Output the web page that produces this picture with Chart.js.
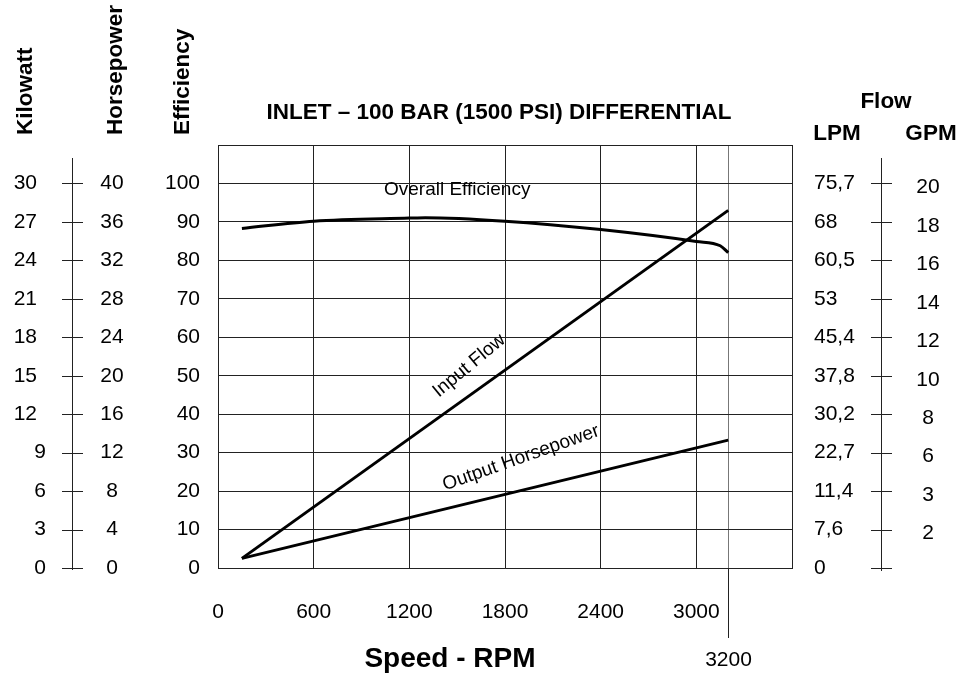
<!DOCTYPE html>
<html>
<head>
<meta charset="utf-8">
<script src="https://cdn.jsdelivr.net/npm/chart.js@4/dist/chart.umd.min.js"></script>
<style>
  body { margin: 0; background: #fff; }
  canvas { display: block; }
</style>
</head>
<body>
<canvas id="myChart" width="959" height="675"></canvas>
<script>
// tick labels
const effTicks = [0, 10, 20, 30, 40, 50, 60, 70, 80, 90, 100];
const kwLabels = ['0', '3', '6', '9', '12', '15', '18', '21', '24', '27', '30'];
const hpLabels = ['0', '4', '8', '12', '16', '20', '24', '28', '32', '36', '40'];
const lpmLabels = ['0', '7,6', '11,4', '22,7', '30,2', '37,8', '45,4', '53', '60,5', '68', '75,7'];
const gpmLabels = ['', '2', '3', '6', '8', '10', '12', '14', '16', '18', '20'];

// curves (speed in rpm)
const effRpm = [150, 600, 1200, 1300, 1800, 2400, 3000, 3150, 3200];
const effValues = [88.3, 90.2, 91.0, 91.1, 90.2, 88.0, 84.9, 83.8, 82.0];
const flowRpm = [150, 3200];
const flowGpm = [0.5, 18.6];
const hpRpm = [150, 3200];
const hpValues = [1.0, 13.3];

const FONT = "'Liberation Sans', Arial, sans-serif";

const toXY = (xs, ys) => xs.map((x, i) => ({ x: x, y: ys[i] }));

const sideAxes = {
    id: 'sideAxes',
    afterDraw(chart) {
        const c = chart.ctx;
        const y = chart.scales.y;
        const x = chart.scales.x;
        const area = chart.chartArea;
        c.save();
        c.fillStyle = '#000';
        c.strokeStyle = '#222';
        c.lineWidth = 1;

        // left kW / hp axis
        c.beginPath();
        c.moveTo(72.5, 158);
        c.lineTo(72.5, y.getPixelForValue(0) + 2);
        effTicks.forEach(v => {
            const py = Math.round(y.getPixelForValue(v)) + 0.5;
            c.moveTo(62, py);
            c.lineTo(83, py);
        });
        // right gpm axis
        c.moveTo(881.5, 158);
        c.lineTo(881.5, y.getPixelForValue(0) + 3);
        effTicks.forEach(v => {
            const py = Math.round(y.getPixelForValue(v)) + 0.5;
            c.moveTo(871, py);
            c.lineTo(892, py);
        });
        // 3200 marker below the plot
        const px = Math.round(x.getPixelForValue(3200)) + 0.5;
        c.moveTo(px, area.bottom);
        c.lineTo(px, 638);
        c.stroke();

        c.font = '21px ' + FONT;
        c.textBaseline = 'middle';
        effTicks.forEach((v, i) => {
            const py = y.getPixelForValue(v);
            c.textAlign = 'right';
            c.fillText(kwLabels[i], kwLabels[i].length > 1 ? 37 : 46, py);
            c.textAlign = 'center';
            c.fillText(hpLabels[i], 112, py);
            c.textAlign = 'left';
            c.fillText(lpmLabels[i], 814, py);
            c.textAlign = 'center';
            c.fillText(gpmLabels[i], 928, py + 4);
        });
        c.textAlign = 'center';
        c.fillText('3200', px, 660);

        // titles
        c.font = 'bold 22.5px ' + FONT;
        c.textBaseline = 'alphabetic';
        c.fillText('INLET \u2013 100 BAR (1500 PSI) DIFFERENTIAL', 499, 119);
        c.fillText('Flow', 886, 108);
        c.fillText('LPM', 837, 140);
        c.fillText('GPM', 931, 140);
        c.font = 'bold 28px ' + FONT;
        c.fillText('Speed - RPM', 450, 667);

        c.font = 'bold 22.5px ' + FONT;
        c.textAlign = 'left';
        [['Kilowatt', 32], ['Horsepower', 122], ['Efficiency', 189]].forEach(([t, bx]) => {
            c.save();
            c.translate(bx, 135);
            c.rotate(-Math.PI / 2);
            c.fillText(t, 0, 0);
            c.restore();
        });

        // curve labels
        c.font = '19px ' + FONT;
        c.textAlign = 'center';
        c.textBaseline = 'middle';
        const note = (txt, rpm, val, ang) => {
            c.save();
            c.translate(x.getPixelForValue(rpm), y.getPixelForValue(val));
            c.rotate(ang * Math.PI / 180);
            c.fillText(txt, 0, 0);
            c.restore();
        };
        note('Overall Efficiency', 1500, 98.4, 0);
        note('Input Flow', 1575, 52.6, -39.6);
        note('Output Horsepower', 1900, 28.6, -19.5);
        c.restore();
    }
};

const ctx = document.getElementById('myChart').getContext('2d');
const myChart = new Chart(ctx, {
    type: 'line',
    data: {
        datasets: [{
            label: 'Overall Efficiency',
            data: toXY(effRpm, effValues),
            yAxisID: 'y',
            borderColor: '#000',
            borderWidth: 3,
            pointRadius: 0,
            cubicInterpolationMode: 'monotone'
        }, {
            label: 'Input Flow',
            data: toXY(flowRpm, flowGpm),
            yAxisID: 'yGpm',
            borderColor: '#000',
            borderWidth: 3,
            pointRadius: 0
        }, {
            label: 'Output Horsepower',
            data: toXY(hpRpm, hpValues),
            yAxisID: 'yHp',
            borderColor: '#000',
            borderWidth: 3,
            pointRadius: 0
        }]
    },
    options: {
        responsive: false,
        animation: false,
        layout: { padding: { left: 0, right: 167, top: 145, bottom: 0 } },
        plugins: {
            legend: { display: false },
            tooltip: { enabled: false }
        },
        scales: {
            x: {
                type: 'linear',
                min: 0,
                max: 3600,
                afterBuildTicks: (scale) => {
                    scale.ticks.push({ value: 3200 });
                    scale.ticks.sort((a, b) => a.value - b.value);
                },
                afterFit: (scale) => { scale.height = 107; },
                ticks: {
                    stepSize: 600,
                    padding: 32,
                    color: '#000',
                    font: { size: 21, family: FONT },
                    callback: (v) => (v === 3200 || v === 3600) ? '' : String(v)
                },
                grid: {
                    drawTicks: false,
                    color: (c) => c.tick && c.tick.value === 3200 ? '#777' : '#222'
                },
                border: { color: '#222' }
            },
            y: {
                min: 0,
                max: 110,
                afterFit: (scale) => { scale.width = 218; },
                ticks: {
                    stepSize: 10,
                    padding: 18,
                    color: '#000',
                    font: { size: 21, family: FONT },
                    callback: (v) => v > 100 ? '' : String(v)
                },
                grid: { drawTicks: false, color: '#222' },
                border: { color: '#222' }
            },
            yGpm: { display: false, min: 0, max: 22 },
            yHp: { display: false, min: 0, max: 44 }
        }
    },
    plugins: [sideAxes]
});
</script>
</body>
</html>
